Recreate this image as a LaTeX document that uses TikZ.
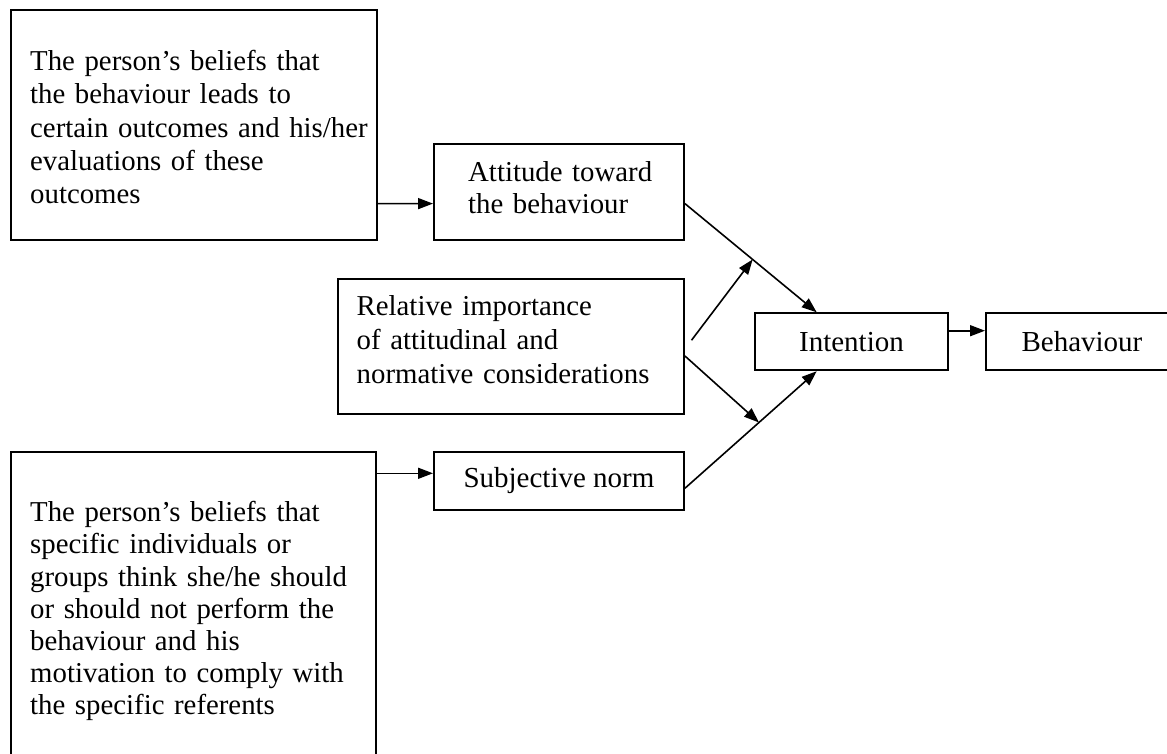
\documentclass[tikz,border=0pt]{standalone}
\usepackage{fontspec}
\setmainfont{Liberation Serif}
\usetikzlibrary{arrows.meta,calc}
\begin{document}
\begin{tikzpicture}[x=1pt,y=-1pt,
  box/.style={draw,line width=1.9pt,rectangle,inner sep=0pt,anchor=north west,
    font=\fontsize{29}{33}\selectfont},
  txt/.style={inner sep=0pt,anchor=base west,align=left,text width=420pt},
  arr/.style={line width=1.6pt,-{Triangle[length=15pt,width=11pt]}}
]
\useasboundingbox (0,0) rectangle (1167,754);
\clip (0,0) rectangle (1167,754);
% boxes
\node[box,minimum width=366pt,minimum height=230pt] (A) at (10,9) {};
\node[box,minimum width=250pt,minimum height=95.7pt] (B) at (433,143.3) {};
\node[box,minimum width=346pt,minimum height=134.4pt] (C) at (337,278.3) {};
\node[box,minimum width=193pt,minimum height=57pt] (D) at (754,312.3) {Intention};
\node[box,minimum width=192pt,minimum height=57pt] (E) at (985,312.3) {Behaviour};
\node[box,minimum width=250pt,minimum height=58pt] (F) at (433,451) {Subjective norm};
\node[box,minimum width=365pt,minimum height=320pt] (G) at (10,451) {};
% texts
\node[txt,font=\fontsize{28.8}{33.2}\selectfont] (At) at (30,70.7)
  {The person’s beliefs that\\the behaviour leads to\\certain outcomes and his/her\\evaluations of these\\outcomes};
\node[txt,font=\fontsize{28.8}{31.6}\selectfont] (Bt) at (468,181.7)
  {Attitude toward\\the behaviour};
\node[txt,font=\fontsize{28.8}{34}\selectfont] (Ct) at (356.5,315)
  {Relative importance\\of attitudinal and\\normative considerations};
\node[txt,font=\fontsize{28.8}{32.2}\selectfont] (Gt) at (30,521.7)
  {The person’s beliefs that\\specific individuals or\\groups think she/he should\\or should not perform the\\behaviour and his\\motivation to comply with\\the specific referents};
% connectors
\draw[arr] ([yshift=37.3pt]A.south east) -- ([yshift=37.3pt]B.south west);
\draw[arr] ([yshift=-22.3pt]G.north east) -- ([yshift=-22.3pt]F.north west);
\draw[arr] ([yshift=-18.4pt]D.north east) -- ([yshift=-18.4pt]E.north west);
\coordinate (b1) at ([yshift=37.3pt]B.south east);
\coordinate (d1) at ([xshift=62.7pt]D.north west);
\coordinate (f1) at ([yshift=-37.3pt]F.north east);
\coordinate (d2) at ([xshift=62.7pt]D.south west);
\draw[arr] (b1) -- (d1);
\draw[arr] (f1) -- (d2);
\coordinate (m1) at ($(b1)!0.514!(d1)$);
\coordinate (m2) at ($(f1)!0.562!(d2)$);
\draw[arr] ([xshift=6.6pt,yshift=6.2pt]C.east) -- (m1);
\draw[arr] ([yshift=-9.5pt]C.east) -- (m2);
\end{tikzpicture}
\end{document}
